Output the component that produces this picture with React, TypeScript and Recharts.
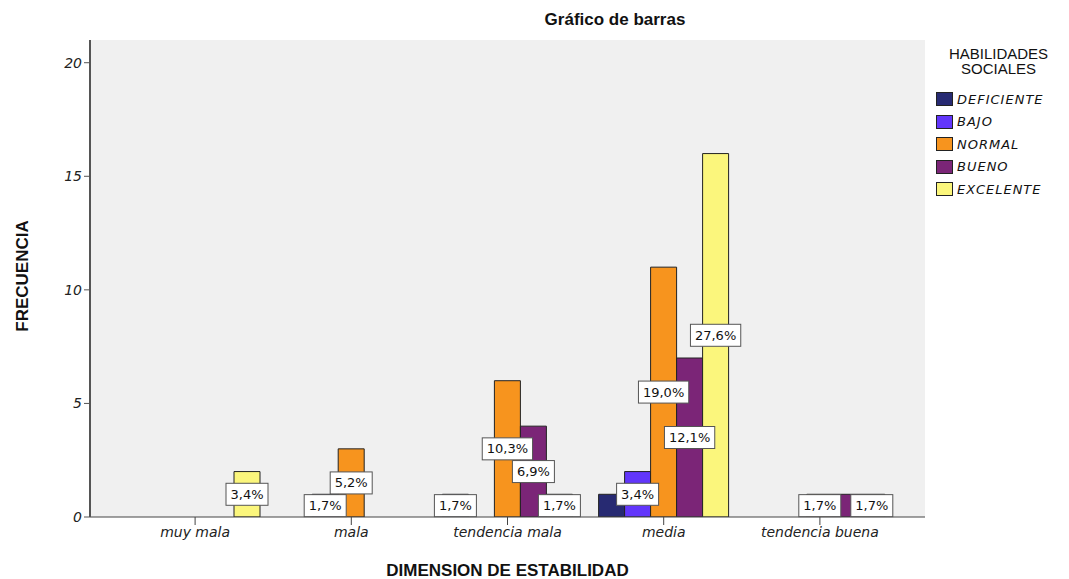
import React from 'react';
import { BarChart, Bar, XAxis, YAxis, CartesianGrid, LabelList } from 'recharts';

const categories = ['muy mala', 'mala', 'tendencia mala', 'media', 'tendencia buena'];
const deficiente = [0, 0, 1, 1, 0];
const bajo = [0, 1, 0, 2, 0];
const normal = [0, 3, 6, 11, 1];
const bueno = [0, 0, 4, 7, 1];
const excelente = [2, 0, 1, 16, 1];
const yTicks = [0, 5, 10, 15, 20];
const totalN = 58;
// labels SPSS hid because they overlapped a neighbour
const hiddenLabels = ['media|DEFICIENTE', 'tendencia buena|BUENO'];

const series = [
  { key: 'DEFICIENTE', values: deficiente, color: '#272a72' },
  { key: 'BAJO', values: bajo, color: '#6236fb' },
  { key: 'NORMAL', values: normal, color: '#f7941e' },
  { key: 'BUENO', values: bueno, color: '#7b2577' },
  { key: 'EXCELENTE', values: excelente, color: '#fbf67c' },
];

const pct = (v: number) => ((v / totalN) * 100).toFixed(1).replace('.', ',') + '%';

const data = categories.map((name, i) => {
  const row: Record<string, any> = { name };
  series.forEach((s) => {
    const v = s.values[i];
    row[s.key] = v === 0 ? null : v;
    row[s.key + '_label'] = v === 0 || hiddenLabels.includes(name + '|' + s.key) ? null : pct(v);
  });
  return row;
});

const textWidth = (t: string) =>
  t.split('').reduce((w, c) => w + (c === ',' ? 4.1 : c === '%' ? 12.3 : 8.3), 0);

const renderLabel = (props: any) => {
  const { x, y, width, height, value } = props;
  if (value == null || value === '') return null;
  const t = String(value);
  const w = textWidth(t) + 9;
  const cx = Number(x) + Number(width) / 2;
  const cy = Number(y) + Number(height) / 2;
  return (
    <g>
      <rect x={cx - w / 2} y={cy - 11} width={w} height={22} fill="#ffffff" stroke="#555555" strokeWidth={1} />
      <text x={cx} y={cy + 4.5} textAnchor="middle" fontSize={13} fontFamily="DejaVu Sans" fill="#111">
        {t}
      </text>
    </g>
  );
};

const tickFont = { fontSize: 14, fill: '#222', fontFamily: 'DejaVu Sans', fontStyle: 'italic' as const };

export default function App() {
  return (
    <div style={{ position: 'absolute', left: 0, top: 0, width: 1069, height: 579, background: '#fff', fontFamily: 'Liberation Sans, Arial, sans-serif' }}>
      <div style={{ position: 'absolute', left: 0, width: 1230, top: 10, textAlign: 'center', fontWeight: 'bold', fontSize: 17, color: '#111' }}>
        Gráfico de barras
      </div>
      <div
        style={{
          position: 'absolute', left: 23, top: 276, transform: 'translate(-50%, -50%) rotate(-90deg)',
          fontWeight: 'bold', fontSize: 17, color: '#111', whiteSpace: 'nowrap',
        }}
      >
        FRECUENCIA
      </div>
      <div style={{ position: 'absolute', left: 90, width: 835, top: 561, textAlign: 'center', fontWeight: 'bold', fontSize: 17, color: '#111' }}>
        DIMENSION DE ESTABILIDAD
      </div>

      <BarChart
        width={1069}
        height={579}
        data={data}
        margin={{ top: 40, right: 144, bottom: 22, left: 40 }}
        barSize={26}
        barGap={0}
      >
        <CartesianGrid fill="#f0f0f0" horizontal={false} vertical={false} />
        <XAxis
          dataKey="name"
          padding={{ left: 27, right: 27 }}
          height={40}
          tick={tickFont}
          tickSize={8}
          tickLine={{ stroke: '#444' }}
          axisLine={{ stroke: '#444' }}
          interval={0}
        />
        <XAxis xAxisId="top" orientation="top" dataKey="name" height={0} tick={false} tickLine={false} axisLine={{ stroke: '#666' }} />
        <YAxis
          domain={[0, 21]}
          ticks={yTicks}
          width={50}
          tick={tickFont}
          tickSize={6}
          tickLine={{ stroke: '#555' }}
          axisLine={{ stroke: '#555', strokeWidth: 2 }}
          allowDataOverflow
        />
        <YAxis yAxisId="right" orientation="right" width={0} tick={false} tickLine={false} axisLine={{ stroke: '#666' }} />
        {series.map((s) => (
          <Bar key={s.key} dataKey={s.key} fill={s.color} stroke="#222" strokeWidth={1} isAnimationActive={false}>
            <LabelList dataKey={s.key + '_label'} content={renderLabel} />
          </Bar>
        ))}
      </BarChart>

      <div style={{ position: 'absolute', left: 928, top: 46, width: 141, textAlign: 'center', fontSize: 15, lineHeight: '15px', color: '#111' }}>
        HABILIDADES
        <br />
        SOCIALES
      </div>
      {series.map((s, i) => (
        <div key={s.key} style={{ position: 'absolute', left: 936, top: 92 + i * 22.5, height: 14, display: 'flex', alignItems: 'center' }}>
          <div style={{ width: 15, height: 12, background: s.color, border: '1px solid #222' }} />
          <span style={{ marginLeft: 4, fontSize: 13, fontStyle: 'italic', letterSpacing: 1, fontFamily: 'DejaVu Sans', color: '#111' }}>
            {s.key}
          </span>
        </div>
      ))}
    </div>
  );
}
